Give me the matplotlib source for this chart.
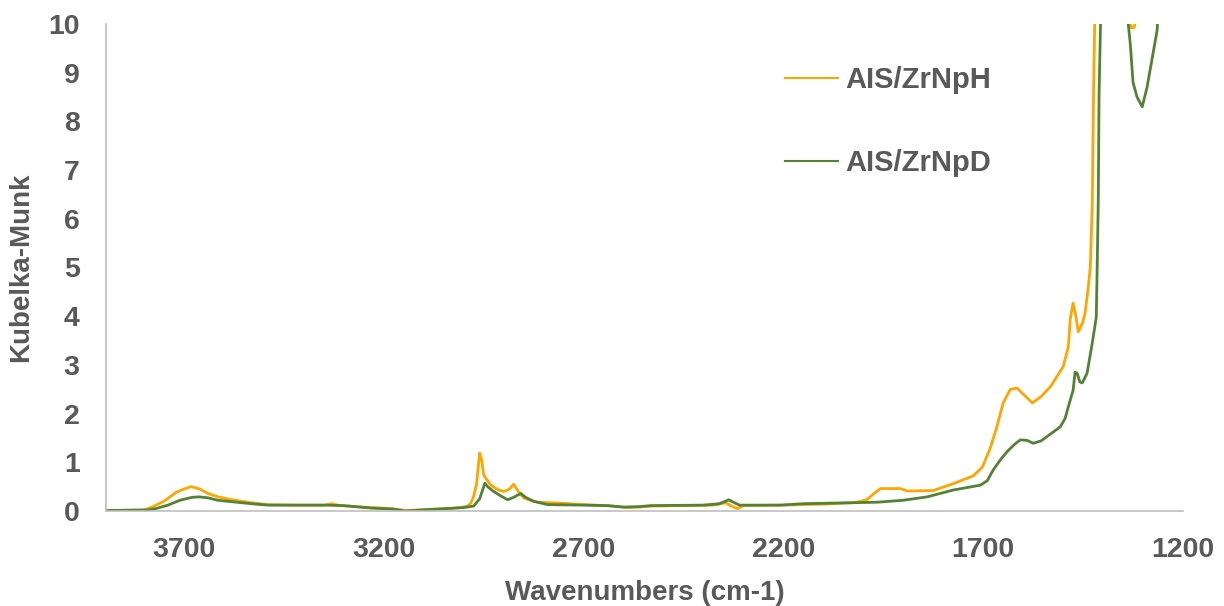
import matplotlib.pyplot as plt

# DRIFTS spectra, Kubelka-Munk units
wn_h = [3895, 3800, 3780, 3750, 3720, 3700, 3682, 3660, 3640, 3615, 3580, 3532, 3490, 3420,
        3350, 3330, 3310, 3232, 3180, 3145, 3087, 3040, 3007, 2990, 2982, 2975, 2968, 2960,
        2955, 2950, 2940, 2932, 2915, 2900, 2885, 2875, 2865, 2850, 2830, 2815, 2757, 2700,
        2640, 2590, 2560, 2532, 2450, 2375, 2355, 2345, 2330, 2315, 2300, 2207, 2100, 2025,
        2005, 1990, 1970, 1957, 1907, 1890, 1825, 1775, 1725, 1702, 1682, 1665, 1650, 1632,
        1615, 1600, 1577, 1555, 1532, 1500, 1487, 1482, 1475, 1468, 1462, 1452, 1445, 1437,
        1432, 1427, 1424, 1420, 1400, 1360, 1335, 1330, 1322, 1315, 1290, 1250, 1200]
km_h = [0.01, 0.02, 0.08, 0.20, 0.38, 0.45, 0.50, 0.45, 0.36, 0.29, 0.23, 0.17, 0.13, 0.12,
        0.12, 0.15, 0.11, 0.07, 0.05, 0.01, 0.03, 0.05, 0.07, 0.10, 0.16, 0.30, 0.55, 1.19,
        1.05, 0.74, 0.62, 0.53, 0.44, 0.40, 0.45, 0.55, 0.42, 0.27, 0.21, 0.18, 0.16, 0.13,
        0.11, 0.07, 0.08, 0.10, 0.11, 0.12, 0.15, 0.17, 0.10, 0.05, 0.11, 0.12, 0.14, 0.17,
        0.20, 0.24, 0.38, 0.46, 0.46, 0.41, 0.42, 0.56, 0.72, 0.90, 1.30, 1.75, 2.22, 2.50,
        2.52, 2.40, 2.22, 2.35, 2.55, 2.96, 3.37, 3.95, 4.27, 4.00, 3.68, 3.85, 4.06, 4.60,
        5.00, 6.30, 8.50, 10.5, 14.0, 14.0, 10.3, 9.92, 9.93, 10.3, 13.0, 15.0, 16.0]

wn_d = [3895, 3790, 3770, 3740, 3710, 3680, 3662, 3640, 3615, 3580, 3532, 3490, 3420, 3350,
        3300, 3232, 3180, 3145, 3087, 3040, 3000, 2975, 2960, 2947, 2940, 2925, 2905, 2890,
        2875, 2857, 2845, 2825, 2790, 2700, 2640, 2600, 2560, 2532, 2400, 2360, 2345, 2337,
        2325, 2310, 2207, 2150, 2025, 1965, 1900, 1840, 1775, 1707, 1690, 1675, 1657, 1640,
        1620, 1607, 1590, 1575, 1555, 1540, 1520, 1507, 1495, 1487, 1475, 1470, 1465, 1458,
        1452, 1440, 1427, 1417, 1415, 1412, 1410, 1405, 1380, 1345, 1337, 1332, 1325, 1315,
        1302, 1290, 1277, 1265, 1262, 1240, 1200]
km_d = [0.01, 0.02, 0.05, 0.12, 0.22, 0.28, 0.29, 0.27, 0.22, 0.19, 0.15, 0.12, 0.12, 0.12,
        0.11, 0.06, 0.04, 0.00, 0.03, 0.05, 0.07, 0.10, 0.25, 0.57, 0.50, 0.40, 0.30, 0.23,
        0.28, 0.36, 0.28, 0.20, 0.13, 0.12, 0.11, 0.08, 0.09, 0.11, 0.12, 0.15, 0.20, 0.23,
        0.18, 0.12, 0.12, 0.15, 0.17, 0.18, 0.22, 0.29, 0.43, 0.53, 0.62, 0.84, 1.05, 1.22,
        1.38, 1.46, 1.45, 1.39, 1.44, 1.53, 1.65, 1.73, 1.90, 2.14, 2.48, 2.85, 2.83, 2.65,
        2.63, 2.83, 3.45, 3.98, 4.88, 6.38, 8.58, 10.5, 14.0, 12.0, 10.0, 9.6, 8.8, 8.5,
        8.3, 8.7, 9.3, 9.86, 10.2, 13.0, 15.0]

grey = '#595959'
plt.rcParams['font.family'] = ['Liberation Sans', 'DejaVu Sans']
plt.rcParams['font.weight'] = 'bold'

fig = plt.figure(figsize=(12.24, 6.06), dpi=100)
ax = fig.add_axes([0.0866, 0.1568, 0.8799, 0.8036])

ax.plot(wn_h, km_h, color='#FFA500', lw=2.0, label='AIS/ZrNpH')
ax.plot(wn_d, km_d, color='#548235', lw=2.0, label='AIS/ZrNpD')

ax.set_xlim(3895, 1200)
ax.set_ylim(0, 10)
ax.set_xticks([3700, 3200, 2700, 2200, 1700, 1200])
ax.set_yticks(range(0, 11))

for side in ['top', 'right']:
    ax.spines[side].set_visible(False)
for side in ['left', 'bottom']:
    ax.spines[side].set_color('#BFBFBF')
    ax.spines[side].set_linewidth(1.2)
ax.tick_params(length=0, labelsize=20.5, labelcolor=grey, pad=19)
for lab in ax.get_xticklabels() + ax.get_yticklabels():
    lab.set_fontweight('bold')

ax.set_xlabel('Wavenumbers (cm-1)', fontsize=20, fontweight='bold', color=grey, labelpad=12)
ax.set_ylabel('Kubelka-Munk', fontsize=20, fontweight='bold', color=grey, labelpad=10)

leg = ax.legend(loc='upper left', bbox_to_anchor=(0.63, 0.914), frameon=False,
                fontsize=21, handlelength=1.85, handletextpad=0.25, labelspacing=1.88,
                borderpad=0, borderaxespad=0)
for t in leg.get_texts():
    t.set_color(grey)
    t.set_fontweight('bold')
for h in leg.get_lines():
    h.set_linewidth(1.5)

fig.savefig('out.png', dpi=100)
